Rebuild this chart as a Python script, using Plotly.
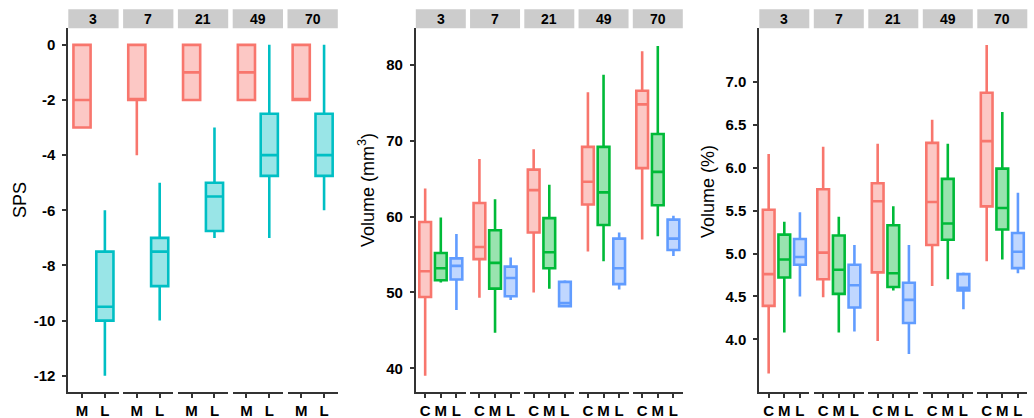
import plotly.graph_objects as go

W, H = 1034, 418

days = ["3", "7", "21", "49", "70"]

# ---------------- Panel 1: SPS (groups M, L) ----------------
sps_groups = ["M", "L"]
sps_lower = {"M": [-3, -4, -2, -2, -2], "L": [-12, -10, -7, -7, -6]}
sps_q1 = {"M": [-3, -2, -2, -2, -2], "L": [-10, -8.75, -6.75, -4.75, -4.75]}
sps_med = {"M": [-2, -2, -1, -1, -2], "L": [-9.5, -7.5, -5.5, -4, -4]}
sps_q3 = {"M": [0, 0, 0, 0, 0], "L": [-7.5, -7, -5, -2.5, -2.5]}
sps_upper = {"M": [0, 0, 0, 0, 0], "L": [-6, -5, -3, 0, 0]}

# ---------------- Panel 2: Volume (mm3) (groups C, M, L) ----------------
vol_groups = ["C", "M", "L"]
vol_lower = {"C": [39.0, 49.3, 50.0, 55.4, 57.0],
             "M": [51.3, 44.7, 50.5, 54.1, 57.4],
             "L": [47.7, 49.0, 48.2, 50.4, 54.8]}
vol_q1 = {"C": [49.4, 54.4, 57.9, 61.6, 66.4],
          "M": [51.6, 50.5, 53.2, 58.9, 61.5],
          "L": [51.7, 49.5, 48.2, 51.1, 55.6]}
vol_med = {"C": [52.8, 56.0, 63.5, 64.6, 74.8],
           "M": [53.2, 53.9, 55.3, 63.2, 65.9],
           "L": [53.5, 51.9, 48.6, 53.2, 57.1]}
vol_q3 = {"C": [59.3, 61.8, 66.2, 69.2, 76.6],
          "M": [55.2, 58.2, 59.8, 69.2, 70.9],
          "L": [54.5, 53.4, 51.4, 57.1, 59.6]}
vol_upper = {"C": [63.7, 67.6, 68.9, 76.4, 81.8],
             "M": [59.9, 62.3, 64.2, 78.7, 82.5],
             "L": [57.7, 54.6, 51.6, 57.9, 60.1]}

# ---------------- Panel 3: Volume (%) (groups C, M, L) ----------------
pct_lower = {"C": [3.60, 4.49, 3.98, 4.62, 4.91],
             "M": [4.08, 4.08, 4.57, 4.70, 4.93],
             "L": [4.50, 4.09, 3.83, 4.35, 4.77]}
pct_q1 = {"C": [4.39, 4.70, 4.78, 5.10, 5.55],
          "M": [4.72, 4.53, 4.61, 5.16, 5.28],
          "L": [4.87, 4.37, 4.19, 4.57, 4.83]}
pct_med = {"C": [4.76, 5.01, 5.61, 5.60, 6.31],
           "M": [4.93, 4.81, 4.77, 5.35, 5.53],
           "L": [4.96, 4.63, 4.46, 4.60, 5.02]}
pct_q3 = {"C": [5.51, 5.75, 5.82, 6.29, 6.875],
          "M": [5.22, 5.21, 5.33, 5.87, 5.99],
          "L": [5.17, 4.87, 4.66, 4.76, 5.24]}
pct_upper = {"C": [6.16, 6.245, 6.28, 6.56, 7.43],
             "M": [5.37, 5.43, 5.55, 6.28, 6.65],
             "L": [5.48, 5.10, 5.10, 4.78, 5.71]}

y_titles = ["SPS", "Volume (mm<sup>3</sup>)", "Volume (%)"]
y_ranges = [[-12.6, 0.6], [36.83, 84.84], [3.382, 7.626]]
y_ticks = [[0, -2, -4, -6, -8, -10, -12],
           [40, 50, 60, 70, 80],
           [4.0, 4.5, 5.0, 5.5, 6.0, 6.5, 7.0]]
y_ticktext = [["0", "-2", "-4", "-6", "-8", "-10", "-12"],
              ["40", "50", "60", "70", "80"],
              ["4.0", "4.5", "5.0", "5.5", "6.0", "6.5", "7.0"]]

colors2 = {"M": "#F8766D", "L": "#00BFC4"}
colors3 = {"C": "#F8766D", "M": "#00BA38", "L": "#619CFF"}


def rgba(hexc, a):
    h = hexc.lstrip("#")
    r, g, b = int(h[0:2], 16), int(h[2:4], 16), int(h[4:6], 16)
    return f"rgba({r},{g},{b},{a})"


panels = [
    dict(groups=sps_groups, colors=colors2, lower=sps_lower, q1=sps_q1, med=sps_med, q3=sps_q3, upper=sps_upper),
    dict(groups=vol_groups, colors=colors3, lower=vol_lower, q1=vol_q1, med=vol_med, q3=vol_q3, upper=vol_upper),
    dict(groups=vol_groups, colors=colors3, lower=pct_lower, q1=pct_q1, med=pct_med, q3=pct_q3, upper=pct_upper),
]

# pixel layout
panel_start = [68.3, 415.8, 759.3]
facet_w = [50.3, 50.0, 50.0]
facet_gap = [4.5, 4.25, 4.5]
plot_top, plot_bot = 28.3, 392.3
strip_top = 9.3
title_x = [20, 366, 708]
title_y = [200, 190, 192]

FONT = "Liberation Sans"
AXC = "#333333"

fig = go.Figure()
layout = dict(
    width=W, height=H, autosize=False,
    margin=dict(l=0, r=0, t=0, b=0),
    paper_bgcolor="white", plot_bgcolor="rgba(0,0,0,0)",
    showlegend=False, font=dict(family=FONT, color="black"),
)
shapes = []
annotations = []

ydom = [1 - plot_bot / H, 1 - plot_top / H]

for p, pan in enumerate(panels):
    yname = "y" if p == 0 else f"y{p+1}"
    ykey = "yaxis" if p == 0 else f"yaxis{p+1}"
    ng = len(pan["groups"])
    for f, day in enumerate(days):
        k = p * 5 + f + 1
        xname = "x" if k == 1 else f"x{k}"
        xkey = "xaxis" if k == 1 else f"xaxis{k}"
        x0 = panel_start[p] + f * (facet_w[p] + facet_gap[p])
        x1 = x0 + facet_w[p]
        layout[xkey] = dict(
            domain=[x0 / W, x1 / W], anchor=yname,
            range=[0.4, ng + 0.6], tickvals=list(range(1, ng + 1)),
            ticktext=[f"<b>{g}</b>" for g in pan["groups"]],
            showgrid=False, zeroline=False, showline=True, linecolor=AXC, linewidth=1.8,
            ticks="outside", ticklen=4, tickwidth=1.5, tickcolor=AXC,
            tickfont=dict(family=FONT, size=15, color="black"),
            fixedrange=True, automargin=False,
        )
        for gi, g in enumerate(pan["groups"]):
            c = pan["colors"][g]
            fig.add_trace(go.Box(
                x=[gi + 1], q1=[pan["q1"][g][f]], median=[pan["med"][g][f]], q3=[pan["q3"][g][f]],
                lowerfence=[pan["lower"][g][f]], upperfence=[pan["upper"][g][f]],
                width=0.75, whiskerwidth=0, boxpoints=False,
                line=dict(color=c, width=2.6), fillcolor=rgba(c, 0.4),
                xaxis=xname, yaxis=yname, hoverinfo="skip",
            ))
        # strip
        shapes.append(dict(type="rect", xref="paper", yref="paper",
                           x0=x0 / W, x1=x1 / W, y0=1 - plot_top / H, y1=1 - strip_top / H,
                           fillcolor="#CCCCCC", line=dict(width=0), layer="below"))
        annotations.append(dict(x=(x0 + x1) / 2 / W, y=1 - (strip_top + plot_top) / 2 / H,
                                xref="paper", yref="paper", text=f"<b>{day}</b>", showarrow=False,
                                font=dict(family=FONT, size=14, color="black"),
                                xanchor="center", yanchor="middle"))
    layout[ykey] = dict(
        domain=ydom, anchor="x" if p == 0 else f"x{p*5+1}",
        range=y_ranges[p], tickvals=y_ticks[p],
        ticktext=[f"<b>{t}</b>" for t in y_ticktext[p]],
        showgrid=False, zeroline=False, showline=True, linecolor=AXC, linewidth=1.8,
        ticks="outside", ticklen=4, tickwidth=1.5, tickcolor=AXC, ticklabelstandoff=4,
        tickfont=dict(family=FONT, size=15, color="black"),
        fixedrange=True, automargin=False,
    )
    annotations.append(dict(x=title_x[p] / W, y=1 - title_y[p] / H, xref="paper", yref="paper",
                            text=y_titles[p], showarrow=False, textangle=-90,
                            font=dict(family=FONT, size=18, color="black"),
                            xanchor="center", yanchor="middle"))

layout["shapes"] = shapes
layout["annotations"] = annotations
fig.update_layout(**layout)
fig.write_html("out.html", config={"displayModeBar": False},
               post_script="document.body.style.margin='0';document.body.style.overflow='hidden';")
